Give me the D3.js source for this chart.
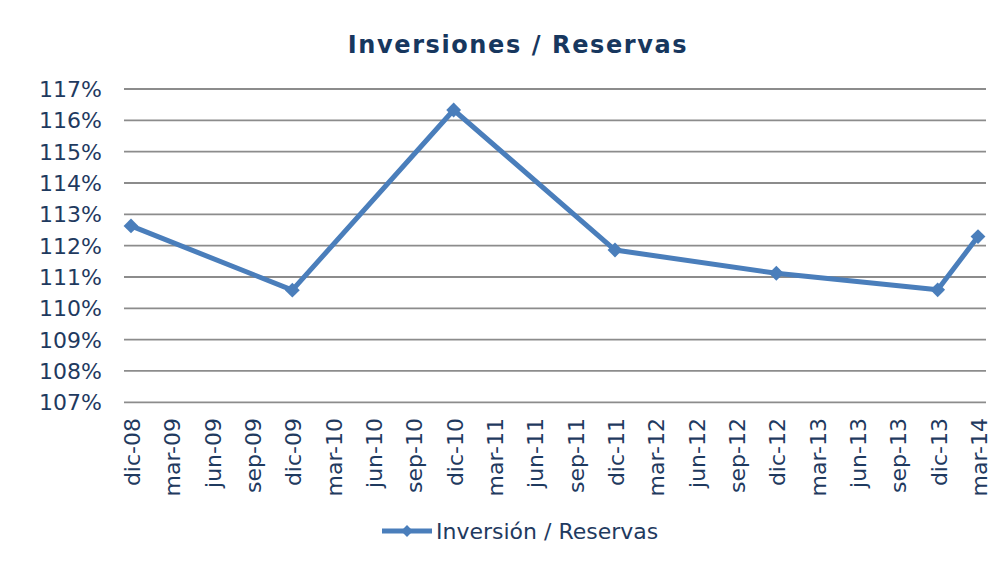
<!DOCTYPE html>
<html>
<head>
<meta charset="utf-8">
<script src="https://cdn.jsdelivr.net/npm/d3@7"></script>
<style>
  body { margin: 0; background: #fff; }
  text { font-family: "DejaVu Sans", Verdana, sans-serif; fill: #1f3a5f; }
</style>
</head>
<body>
<div id="chart"></div>
<script>
// quarterly tick labels on the x axis
var ticks = ["dic-08", "mar-09", "jun-09", "sep-09", "dic-09", "mar-10", "jun-10", "sep-10",
             "dic-10", "mar-11", "jun-11", "sep-11", "dic-11", "mar-12", "jun-12", "sep-12",
             "dic-12", "mar-13", "jun-13", "sep-13", "dic-13", "mar-14"];

// observed dates and values (%)
var dates = ["dic-08", "dic-09", "dic-10", "dic-11", "dic-12", "dic-13", "mar-14"];
var values = [112.63, 110.58, 116.33, 111.86, 111.12, 110.59, 112.29];

var yTicks = [107, 108, 109, 110, 111, 112, 113, 114, 115, 116, 117];

var width = 1004, height = 577;
var blue = "#4a7ebb";

var svg = d3.select("#chart")
            .append("svg")
            .attr("width", width)
            .attr("height", height);

var x = d3.scalePoint()
          .domain(ticks)
          .range([131, 978]);

var y = d3.scaleLinear()
          .domain([107, 117])
          .range([402.3, 89]);

// title
svg.append("text")
   .attr("x", 518)
   .attr("y", 53)
   .attr("text-anchor", "middle")
   .style("font-size", "24px")
   .style("font-weight", "bold")
   .style("letter-spacing", "1.6px")
   .style("fill", "#17375e")
   .text("Inversiones / Reservas");

// gridlines
svg.append("g")
   .selectAll("line")
   .data(yTicks)
   .enter()
   .append("line")
   .attr("x1", 124)
   .attr("x2", 986)
   .attr("y1", function(d) { return y(d); })
   .attr("y2", function(d) { return y(d); })
   .attr("stroke", "#8c8c8c")
   .attr("stroke-width", 1.8);

// y labels
svg.append("g")
   .selectAll("text")
   .data(yTicks)
   .enter()
   .append("text")
   .attr("x", 102)
   .attr("y", function(d) { return y(d); })
   .attr("dy", "0.36em")
   .attr("text-anchor", "end")
   .style("font-size", "22px")
   .text(function(d) { return d + "%"; });

// x labels, rotated
svg.append("g")
   .selectAll("text")
   .data(ticks)
   .enter()
   .append("text")
   .attr("transform", function(d) { return "translate(" + (x(d) + 1) + ",418) rotate(-90)"; })
   .attr("dy", "0.36em")
   .attr("text-anchor", "end")
   .style("font-size", "22px")
   .text(function(d) { return d; });

// series
var pts = dates.map(function(d, i) { return { date: d, value: values[i] }; });

var line = d3.line()
             .x(function(d) { return x(d.date); })
             .y(function(d) { return y(d.value); });

svg.append("path")
   .datum(pts)
   .attr("d", line)
   .attr("fill", "none")
   .attr("stroke", blue)
   .attr("stroke-width", 5)
   .attr("stroke-linejoin", "round");

var diamond = d3.symbol().type(d3.symbolSquare).size(110);

svg.append("g")
   .selectAll("path")
   .data(pts)
   .enter()
   .append("path")
   .attr("d", diamond)
   .attr("transform", function(d) { return "translate(" + x(d.date) + "," + y(d.value) + ") rotate(45)"; })
   .attr("fill", blue);

// legend
var lg = svg.append("g").attr("transform", "translate(382,531)");
lg.append("line")
  .attr("x1", 0).attr("x2", 50)
  .attr("stroke", blue)
  .attr("stroke-width", 5);
lg.append("path")
  .attr("d", d3.symbol().type(d3.symbolSquare).size(70))
  .attr("transform", "translate(25,0) rotate(45)")
  .attr("fill", blue);
lg.append("text")
  .attr("x", 54)
  .attr("dy", "0.36em")
  .style("font-size", "22px")
  .text("Inversión / Reservas");
</script>
</body>
</html>
